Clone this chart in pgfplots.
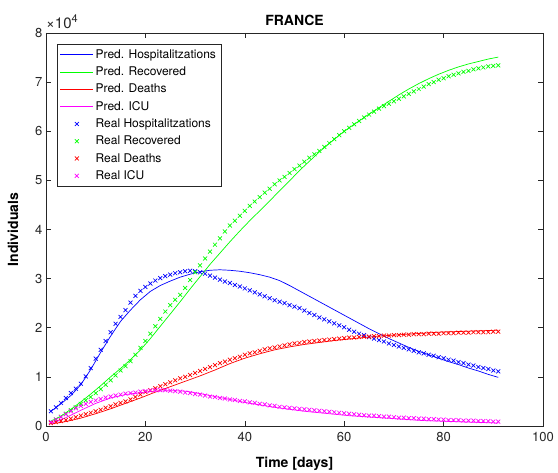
\documentclass[border=0pt]{standalone}
\usepackage{fontspec}
\setmainfont{TeX Gyre Heros}
\usepackage{pgfplots}
\pgfplotsset{compat=1.18}

\definecolor{axgray}{gray}{0.15}
\definecolor{mag}{rgb}{1,0,1}

\begin{document}
\begin{tikzpicture}
\useasboundingbox (-46pt,-47pt) rectangle (512pt,426pt);
\begin{axis}[
    at={(0,0)}, anchor=south west,
    scale only axis,
    width=497pt, height=393pt,
    xmin=0, xmax=100, ymin=0, ymax=8,
    xtick={0,20,...,100}, ytick={0,1,...,8},
    tick align=inside,
    major tick length=5pt,
    axis line style={axgray, line width=0.5pt},
    every tick/.style={axgray, line width=0.5pt},
    /pgf/number format/assume math mode=true,
    tick label style={font=\fontsize{13}{15}\selectfont, text=axgray},
    xticklabel style={yshift=-3pt},
    title={\bfseries FRANCE},
    title style={font=\fontsize{14}{16}\selectfont, yshift=-2pt},
    xlabel={\bfseries Time [days]},
    ylabel={\bfseries Individuals},
    label style={font=\fontsize{14}{16}\selectfont},
    xlabel style={yshift=-8pt},
    ylabel style={yshift=10pt},
    legend style={at={(0.0215,0.971)}, anchor=north west,
        font=\fontsize{12}{13}\selectfont, draw=axgray, line width=0.5pt,
        row sep=3pt, inner xsep=3pt, inner ysep=3pt},
    legend cell align={left},
    legend image code/.code={\draw[mark repeat=2,mark phase=2,#1] plot coordinates {(0pt,0pt)(16.5pt,0pt)(33pt,0pt)};},
    every axis plot/.append style={line width=0.7pt},
]
% predicted curves (x 10^4)
\addplot[blue, no marks] coordinates {
(1,0.30) (3,0.45) (5,0.62) (7,0.84) (9,1.15) (11,1.50) (13,1.83) (15,2.13) (17,2.36) (19,2.57)
(21,2.74) (23,2.86) (25,2.95) (27,3.03) (29,3.09) (31,3.14) (33,3.17) (35,3.18) (37,3.17) (39,3.15)
(41,3.12) (43,3.08) (45,3.03) (47,2.96) (49,2.86) (51,2.75) (53,2.64) (55,2.53) (57,2.42) (59,2.31)
(61,2.20) (63,2.09) (65,1.98) (67,1.88) (69,1.78) (71,1.69) (73,1.60) (75,1.52) (77,1.45) (79,1.38)
(81,1.31) (83,1.25) (85,1.18) (87,1.12) (89,1.05) (91,0.99)};
\addplot[green, no marks] coordinates {
(1,0.10) (3,0.20) (5,0.34) (7,0.49) (9,0.65) (11,0.82) (13,1.00) (15,1.17) (17,1.35) (19,1.55)
(21,1.78) (23,2.03) (25,2.28) (27,2.53) (29,2.79) (31,3.04) (33,3.29) (35,3.52) (37,3.75) (39,3.97)
(41,4.18) (43,4.38) (45,4.58) (47,4.79) (49,4.99) (51,5.20) (53,5.39) (55,5.58) (57,5.75) (59,5.92)
(61,6.07) (63,6.21) (65,6.35) (67,6.48) (69,6.61) (71,6.74) (73,6.86) (75,6.97) (77,7.07) (79,7.16)
(81,7.24) (83,7.31) (85,7.37) (87,7.42) (89,7.47) (91,7.51)};
\addplot[red, no marks] coordinates {
(1,0.04) (4,0.09) (7,0.16) (10,0.25) (13,0.35) (16,0.46) (19,0.57) (22,0.69) (25,0.80) (28,0.91)
(31,1.02) (34,1.14) (37,1.27) (40,1.38) (43,1.47) (46,1.55) (49,1.61) (52,1.66) (55,1.70) (58,1.74)
(61,1.77) (64,1.80) (67,1.83) (70,1.85) (73,1.87) (76,1.89) (79,1.91) (82,1.92) (85,1.93) (88,1.94)
(91,1.95)};
\addplot[mag, no marks] coordinates {
(1,0.05) (4,0.17) (7,0.32) (10,0.46) (13,0.57) (16,0.64) (19,0.68) (22,0.71) (25,0.72) (28,0.71)
(31,0.66) (34,0.60) (37,0.54) (40,0.48) (43,0.43) (46,0.38) (49,0.34) (52,0.30) (55,0.27) (58,0.24)
(61,0.21) (64,0.19) (67,0.17) (70,0.15) (73,0.13) (76,0.11) (79,0.10) (82,0.09) (85,0.08) (88,0.07)
(91,0.06)};
% real data (x 10^4)
\addplot[blue, only marks, mark=x, mark size=2.8pt] coordinates {
(1,0.30) (2,0.38) (3,0.47) (4,0.57) (5,0.67) (6,0.76) (7,0.86) (8,1.01) (9,1.18) (10,1.37)
(11,1.55) (12,1.73) (13,1.91) (14,2.08) (15,2.22) (16,2.36) (17,2.51) (18,2.65) (19,2.75) (20,2.83)
(21,2.90) (22,2.96) (23,3.01) (24,3.05) (25,3.08) (26,3.11) (27,3.13) (28,3.15) (29,3.16) (30,3.15)
(31,3.13) (32,3.10) (33,3.06) (34,3.02) (35,2.98) (36,2.94) (37,2.91) (38,2.87) (39,2.84) (40,2.80)
(41,2.76) (42,2.72) (43,2.68) (44,2.64) (45,2.60) (46,2.56) (47,2.53) (48,2.50) (49,2.46) (50,2.43)
(51,2.40) (52,2.35) (53,2.30) (54,2.26) (55,2.21) (56,2.17) (57,2.13) (58,2.09) (59,2.05) (60,2.01)
(61,1.96) (62,1.92) (63,1.88) (64,1.85) (65,1.81) (66,1.78) (67,1.75) (68,1.72) (69,1.68) (70,1.65)
(71,1.62) (72,1.59) (73,1.56) (74,1.53) (75,1.50) (76,1.48) (77,1.45) (78,1.43) (79,1.40) (80,1.38)
(81,1.35) (82,1.33) (83,1.30) (84,1.28) (85,1.25) (86,1.23) (87,1.20) (88,1.18) (89,1.16) (90,1.13)
(91,1.11)};
\addplot[green, only marks, mark=x, mark size=2.8pt] coordinates {
(1,0.08) (2,0.13) (3,0.19) (4,0.25) (5,0.32) (6,0.38) (7,0.45) (8,0.52) (9,0.59) (10,0.67)
(11,0.75) (12,0.84) (13,0.93) (14,1.03) (15,1.13) (16,1.22) (17,1.32) (18,1.45) (19,1.59) (20,1.73)
(21,1.88) (22,2.03) (23,2.18) (24,2.33) (25,2.46) (26,2.57) (27,2.67) (28,2.81) (29,2.97) (30,3.13)
(31,3.27) (32,3.41) (33,3.55) (34,3.69) (35,3.82) (36,3.96) (37,4.08) (38,4.18) (39,4.28) (40,4.38)
(41,4.48) (42,4.57) (43,4.66) (44,4.75) (45,4.83) (46,4.92) (47,5.00) (48,5.07) (49,5.15) (50,5.23)
(51,5.30) (52,5.38) (53,5.46) (54,5.53) (55,5.60) (56,5.68) (57,5.76) (58,5.84) (59,5.92) (60,6.00)
(61,6.07) (62,6.14) (63,6.21) (64,6.28) (65,6.34) (66,6.40) (67,6.46) (68,6.51) (69,6.56) (70,6.61)
(71,6.66) (72,6.71) (73,6.76) (74,6.81) (75,6.86) (76,6.91) (77,6.96) (78,7.00) (79,7.05) (80,7.08)
(81,7.12) (82,7.15) (83,7.18) (84,7.21) (85,7.23) (86,7.26) (87,7.28) (88,7.30) (89,7.32) (90,7.33)
(91,7.34)};
\addplot[red, only marks, mark=x, mark size=2.8pt] coordinates {
(1,0.06) (2,0.08) (3,0.10) (4,0.12) (5,0.15) (6,0.18) (7,0.21) (8,0.24) (9,0.27) (10,0.30)
(11,0.33) (12,0.37) (13,0.40) (14,0.44) (15,0.47) (16,0.50) (17,0.54) (18,0.59) (19,0.64) (20,0.69)
(21,0.73) (22,0.77) (23,0.81) (24,0.85) (25,0.89) (26,0.93) (27,0.97) (28,1.00) (29,1.04) (30,1.08)
(31,1.12) (32,1.16) (33,1.20) (34,1.24) (35,1.28) (36,1.31) (37,1.35) (38,1.38) (39,1.41) (40,1.45)
(41,1.48) (42,1.50) (43,1.53) (44,1.56) (45,1.58) (46,1.60) (47,1.62) (48,1.64) (49,1.66) (50,1.68)
(51,1.69) (52,1.71) (53,1.72) (54,1.73) (55,1.74) (56,1.75) (57,1.76) (58,1.77) (59,1.78) (60,1.79)
(61,1.80) (62,1.80) (63,1.81) (64,1.82) (65,1.82) (66,1.83) (67,1.83) (68,1.84) (69,1.84) (70,1.85)
(71,1.85) (72,1.86) (73,1.86) (74,1.87) (75,1.87) (76,1.87) (77,1.88) (78,1.88) (79,1.88) (80,1.89)
(81,1.89) (82,1.89) (83,1.90) (84,1.90) (85,1.90) (86,1.91) (87,1.91) (88,1.91) (89,1.91) (90,1.92)
(91,1.92)};
\addplot[mag, only marks, mark=x, mark size=2.8pt] coordinates {
(1,0.08) (2,0.13) (3,0.18) (4,0.24) (5,0.30) (6,0.36) (7,0.41) (8,0.45) (9,0.49) (10,0.52)
(11,0.55) (12,0.58) (13,0.60) (14,0.62) (15,0.64) (16,0.66) (17,0.67) (18,0.68) (19,0.70) (20,0.71)
(21,0.72) (22,0.73) (23,0.73) (24,0.73) (25,0.72) (26,0.71) (27,0.70) (28,0.68) (29,0.67) (30,0.65)
(31,0.64) (32,0.62) (33,0.60) (34,0.59) (35,0.57) (36,0.56) (37,0.54) (38,0.53) (39,0.51) (40,0.50)
(41,0.48) (42,0.47) (43,0.45) (44,0.44) (45,0.42) (46,0.41) (47,0.39) (48,0.38) (49,0.37) (50,0.36)
(51,0.35) (52,0.34) (53,0.33) (54,0.32) (55,0.31) (56,0.30) (57,0.29) (58,0.28) (59,0.27) (60,0.26)
(61,0.25) (62,0.24) (63,0.23) (64,0.22) (65,0.21) (66,0.21) (67,0.20) (68,0.19) (69,0.19) (70,0.18)
(71,0.17) (72,0.17) (73,0.16) (74,0.16) (75,0.15) (76,0.15) (77,0.14) (78,0.14) (79,0.13) (80,0.13)
(81,0.12) (82,0.12) (83,0.12) (84,0.11) (85,0.11) (86,0.11) (87,0.10) (88,0.10) (89,0.10) (90,0.09)
(91,0.09)};
\legend{Pred. Hospitalitzations, Pred. Recovered, Pred. Deaths, Pred. ICU,
        Real Hospitalitzations, Real Recovered, Real Deaths, Real ICU}
\end{axis}
\node[anchor=south west, inner sep=0pt, text=axgray]
    at ([yshift=4pt]current axis.north west)
    {\fontsize{15}{17}\selectfont ×10\raisebox{6pt}{\fontsize{11}{12}\selectfont 4}};
\end{tikzpicture}
\end{document}
